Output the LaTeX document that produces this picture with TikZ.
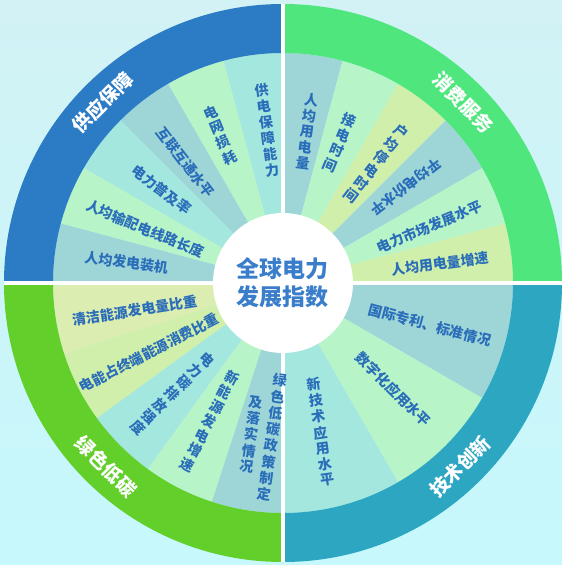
\documentclass[tikz,border=0pt]{standalone}
\usepackage{fontspec}
\setmainfont{Noto Sans CJK SC}
% one column of upright characters
\newcommand\vcol[1]{\begin{tabular}{@{}c@{}}#1\end{tabular}}
\begin{document}
\begin{tikzpicture}[x=1pt, y=1pt, line join=round,
		lbl/.style={text=txtblue, inner sep=0pt, font=\bfseries\fontsize{14}{14.5}\selectfont},
		ringlbl/.style={text=white, inner sep=0pt, font=\bfseries\fontsize{19}{19}\selectfont}]
	% Radii of the wheel
	\def\rout{279} \def\rin{230} \def\rhub{70}
	
	% Colors matching the original image
	\definecolor{bgtop}{HTML}{D2F2F5}
	\definecolor{bgbot}{HTML}{C6F8FC}
	\definecolor{txtblue}{HTML}{2A6DB9}
	\definecolor{hubblue}{HTML}{3A7ECB}
	\definecolor{ringsupply}{HTML}{2C7BC5}
	\definecolor{ringuse}{HTML}{50E67E}
	\definecolor{ringgreen}{HTML}{62CF2A}
	\definecolor{ringtech}{HTML}{2DA7C1}
	\definecolor{wteal}{HTML}{9ED6D7}
	\definecolor{waqua}{HTML}{A4E7DE}
	\definecolor{wmint}{HTML}{B7F5C8}
	\definecolor{wlime}{HTML}{CFEFAA}
	\definecolor{wpale}{HTML}{DCEDB2}
	
	% Background
	\shade[top color=bgtop, bottom color=bgbot] (-283,-282) rectangle (279,283);
	\useasboundingbox (-283,-282) rectangle (279,283);
	
	% Wedges: start angle / width / colour
	\foreach \a/\w/\c in {90/15/waqua, 105/15/wmint, 120/15/wteal, 135/15/waqua, 150/15/wmint, 165/15/wteal,
		75/15/wteal, 60/15/wmint, 45/15/wlime, 30/15/wteal, 15/15/wmint, 0/15/wlime,
		180/18/wpale, 198/18/wlime, 216/18/waqua, 234/18/wmint, 252/18/wteal,
		330/30/wteal, 300/30/wmint, 270/30/waqua}
	\fill[\c] (0,0) -- (\a:\rin) arc[start angle=\a, delta angle=\w, radius=\rin] -- cycle;
	
	% Outer ring, one colour per quarter
	\foreach \a/\c in {90/ringsupply, 0/ringuse, 180/ringgreen, 270/ringtech}
	\fill[\c] (\a:\rout) arc[start angle=\a, delta angle=90, radius=\rout]
	-- (\a+90:\rin) arc[start angle=\a+90, delta angle=-90, radius=\rin] -- cycle;
	
	% White cross between the quarters
	\draw[white, line width=4] (-\rout,0) -- (\rout,0);
	\draw[white, line width=4] (0,-\rout) -- (0,\rout);
	
	% Hub
	\node[circle, fill=white, minimum size=2*\rhub, inner sep=0pt] (hub) at (0,0) {};
	\node[text=hubblue, align=center, font=\bfseries\fontsize{23}{28}\selectfont] (title) at (hub) {全球电力\\发展指数};
	
	% Quarter titles
	\node[ringlbl, rotate=45] (gybz) at (135:255) {供应保障};
	\node[ringlbl, rotate=-45] (xffw) at (45:255) {消费服务};
	\node[ringlbl, rotate=-45] (lsdt) at (226:255) {绿色低碳};
	\node[ringlbl, rotate=45] (jscx) at (314:255) {技术创新};
	
	% Supply
	\node[lbl, rotate=7.5] (gdbz) at (96:152) {\vcol{供\\电\\保\\障\\能\\力}};
	\node[lbl, rotate=22.5] (dwsh) at (113:159) {\vcol{电\\网\\损\\耗}};
	\node[lbl, rotate=-52.5] (hlht) at (129:155) {互联互通水平};
	\node[lbl, rotate=-37.5] (dlpj) at (142.5:153) {电力普及率};
	\node[lbl, rotate=-22.5] (rjsp) at (158.5:148) {人均输配电线路长度};
	\node[lbl, rotate=-7.5] (rjfd) at (172.5:158) {人均发电装机};
	
	% Consumption
	\node[lbl, rotate=-7.5] (rjyd) at (81:152) {\vcol{人\\均\\用\\电\\量}};
	\node[lbl, rotate=-22.5] (jdsj) at (68:150) {\vcol{接\\电\\时\\间}};
	\node[lbl, rotate=-37.5] (hjtd) at (52:150) {\vcol{户\\均\\停\\电\\时\\间}};
	\node[lbl, rotate=217.5] (pjdj) at (38:156) {平均电价水平};
	\node[lbl, rotate=22.5] (dlsc) at (21:157) {电力市场发展水平};
	\node[lbl, rotate=7.5] (rjzs) at (7:158) {人均用电量增速};
	
	% Green, low carbon
	\node[lbl, rotate=9] (qjny) at (190.5:151) {清洁能源发电量比重};
	\node[lbl, rotate=27] (dnzz) at (207.5:151) {电能占终端能源消费比重};
	\node[lbl, rotate=-45] (dltp) at (225:158) {\vcol{电\\力\\碳\\排\\放\\强\\度}};
	\node[lbl, rotate=-27] (xnyf) at (242:158) {\vcol{新\\能\\源\\发\\电\\增\\速}};
	\node[lbl, rotate=-8] (lszc) at (262:156) {\vcol{及\\落\\实\\情\\况}\hspace{7pt}\vcol{绿\\色\\低\\碳\\政\\策\\制\\定}};
	
	% Technology
	\node[lbl, rotate=-15] (gjzl) at (344:153) {国际专利、标准情况};
	\node[lbl, rotate=-45] (szh) at (316:153) {数字化应用水平};
	\node[lbl, rotate=8] (xjs) at (284:155) {\vcol{新\\技\\术\\应\\用\\水\\平}};
\end{tikzpicture}
\end{document}
